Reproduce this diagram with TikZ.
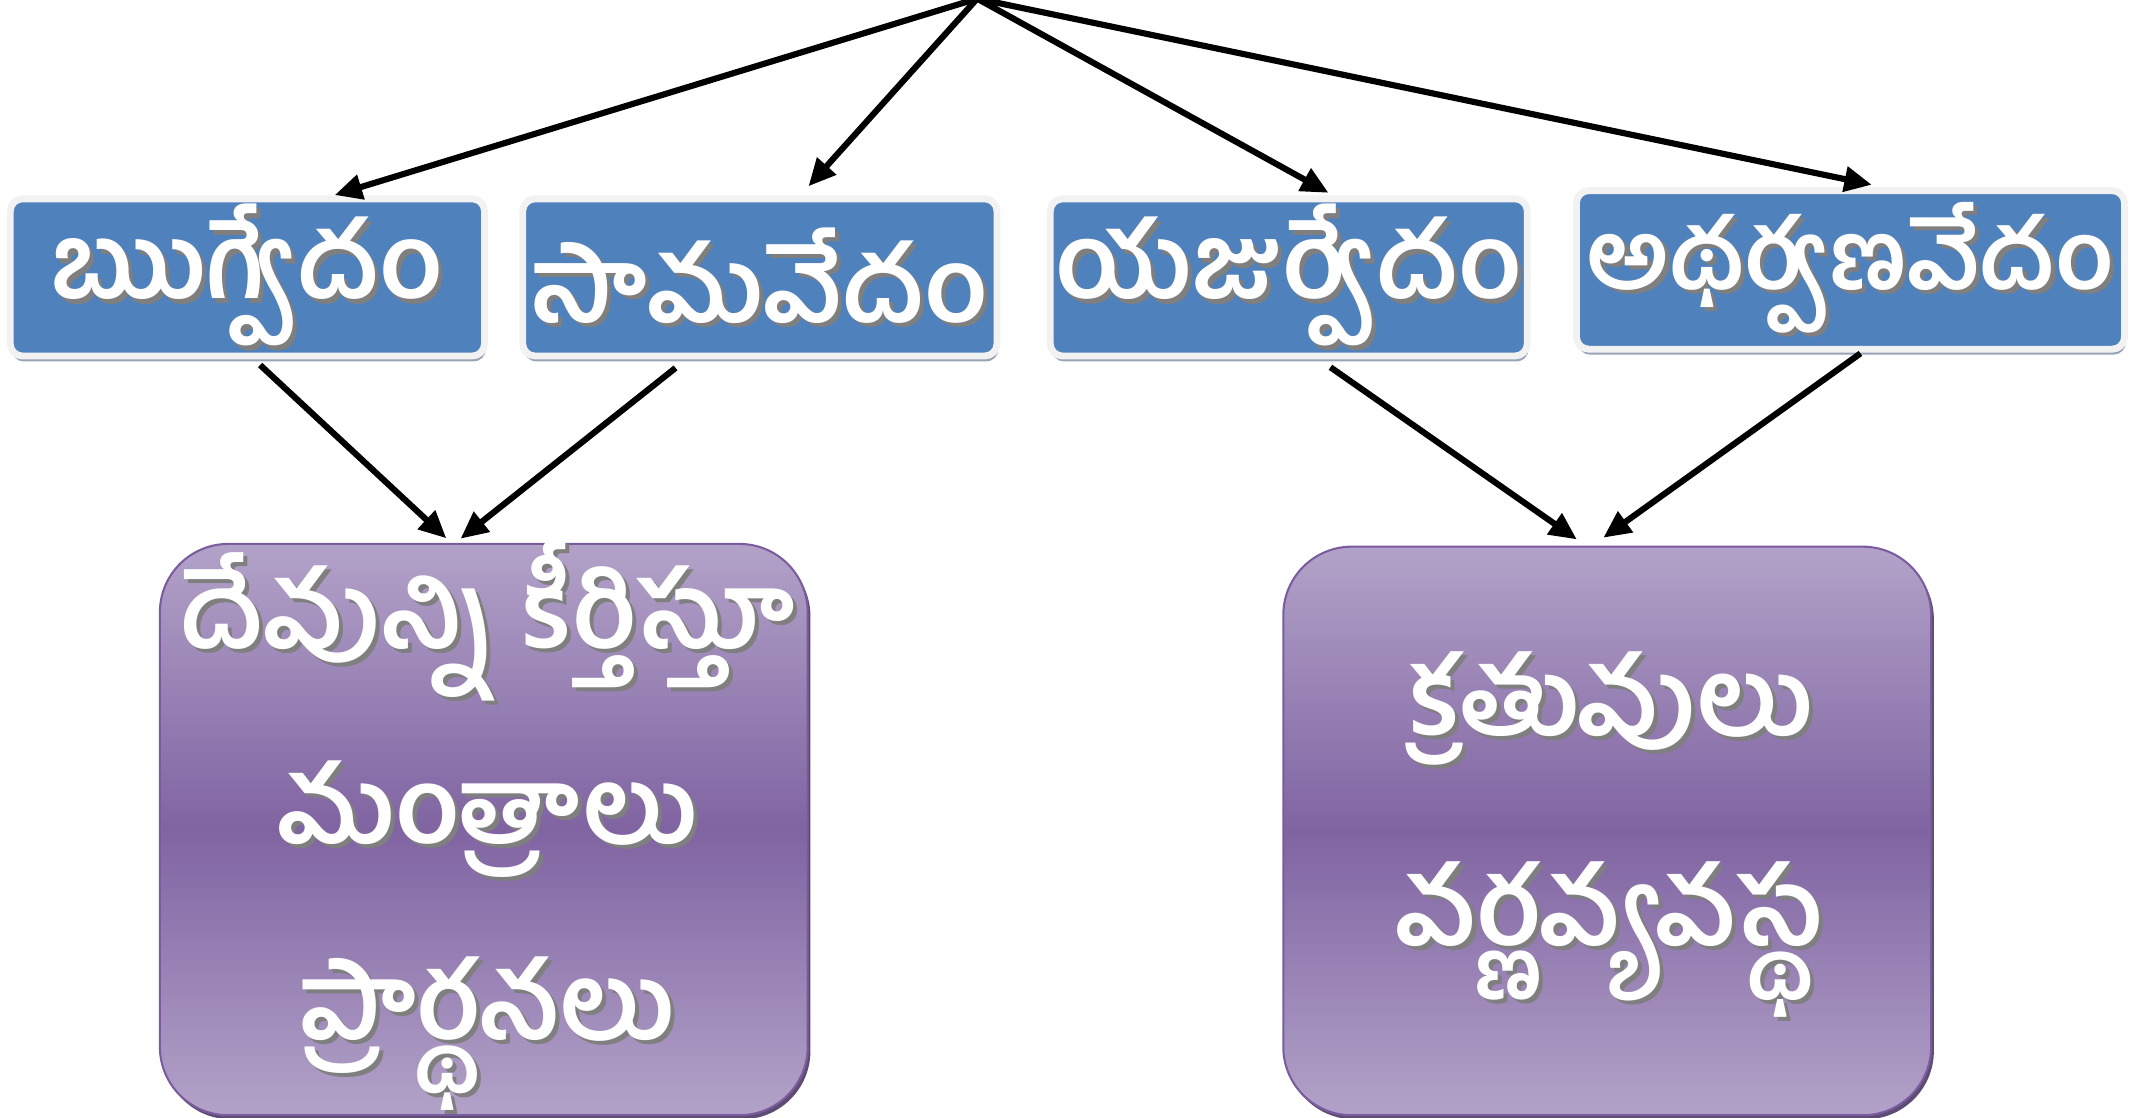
\documentclass[tikz,border=0pt]{standalone}
\usepackage{fontspec}
\newfontfamily\tel{Hind Guntur}[Script=Telugu]
\usetikzlibrary{shadows,arrows.meta,calc}
\definecolor{vblue}{HTML}{4F81BD}
\definecolor{vlight}{HTML}{F2F2F2}
\definecolor{vbshadow}{HTML}{98A3B6}
\definecolor{ptop}{HTML}{B2A2C8}
\definecolor{pmid}{HTML}{8064A2}
\definecolor{pborder}{HTML}{7A5C9E}
\definecolor{pshadow}{HTML}{4B3A63}
\definecolor{tshadow}{HTML}{7F7F7F}
\newcommand\shtext[1]{\leavevmode\rlap{\kern3bp\raisebox{-3bp}{\textcolor{tshadow}{#1}}}\textcolor{white}{#1}}
\tikzset{
  vedabox/.style={draw=vlight, line width=5bp, fill=vblue, rounded corners=9bp,
    drop shadow={shadow xshift=1bp, shadow yshift=-4bp, fill=vbshadow, opacity=1},
    inner sep=0pt, font=\tel\bfseries\fontsize{76bp}{80bp}\selectfont},
  purplebox/.style={draw=pborder, line width=1.5bp, rounded corners=50bp,
    top color=ptop, bottom color=ptop, middle color=pmid,
    drop shadow={shadow xshift=2bp, shadow yshift=-3bp, fill=pshadow, opacity=0.9},
    inner sep=0pt},
  ptext/.style={inner sep=0pt, align=center, font=\tel\bfseries\fontsize{77bp}{143bp}\selectfont},
  arr/.style={draw=black, line width=4.5bp, -{Triangle[length=20bp,width=18bp]}}
}
\begin{document}
\begin{tikzpicture}[x=1bp,y=-1bp]
\useasboundingbox (0,0) rectangle (1560,818);
\coordinate (apex) at (715,-1);
\node[vedabox, minimum width=347bp, minimum height=115bp] (b1) at (181,203) {\shtext{ఋగ్వేదం}};
\node[vedabox, minimum width=347bp, minimum height=115bp] (b2) at (556,203) {\shtext{సామవేదం}};
\node[vedabox, minimum width=349bp, minimum height=115bp] (b3) at (943,203) {\shtext{యజుర్వేదం}};
\node[vedabox, minimum width=401bp, minimum height=116bp, font=\tel\bfseries\fontsize{70bp}{80bp}\selectfont] (b4) at (1354,197.5) {\shtext{అథర్వణవేదం}};
\node[purplebox, minimum width=474bp, minimum height=418bp] (l) at (354,607) {};
\node[purplebox, minimum width=474bp, minimum height=416bp] (r) at (1176,608) {};
\node[ptext] (lt) at (356,605) {\shtext{దేవున్ని కీర్తిస్తూ}\\\shtext{మంత్రాలు}\\\shtext{ప్రార్థనలు}};
\node[ptext, font=\tel\bfseries\fontsize{78bp}{154bp}\selectfont] (rt) at (1178,612) {\shtext{క్రతువులు}\\\shtext{వర్ణవ్యవస్థ}};
\draw[arr, shorten >=1bp] (apex) -- ($(b1.north west)!0.679!(b1.north east)$);
\draw[arr, shorten >=9bp] (apex) -- ($(b2.north west)!0.584!(b2.north east)$);
\draw[arr, shorten >=4bp] (apex) -- ($(b3.north west)!0.592!(b3.north east)$);
\draw[arr, shorten >=9bp] (apex) -- ($(b4.north west)!0.56!(b4.north east)$);
\draw[arr, shorten <=6bp, shorten >=5bp] ($(b1.south west)!0.514!(b1.south east)$) -- ($(l.north west)!0.45!(l.north east)$);
\draw[arr, shorten <=10bp, shorten >=5bp] ($(b2.south west)!0.347!(b2.south east)$) -- ($(l.north west)!0.456!(l.north east)$);
\draw[arr, shorten <=10bp, shorten >=8bp] ($(b3.south west)!0.563!(b3.south east)$) -- ($(r.north west)!0.467!(r.north east)$);
\draw[arr, shorten <=1bp, shorten >=10bp] ($(b4.south west)!0.52!(b4.south east)$) -- ($(r.north west)!0.477!(r.north east)$);
\end{tikzpicture}
\end{document}
